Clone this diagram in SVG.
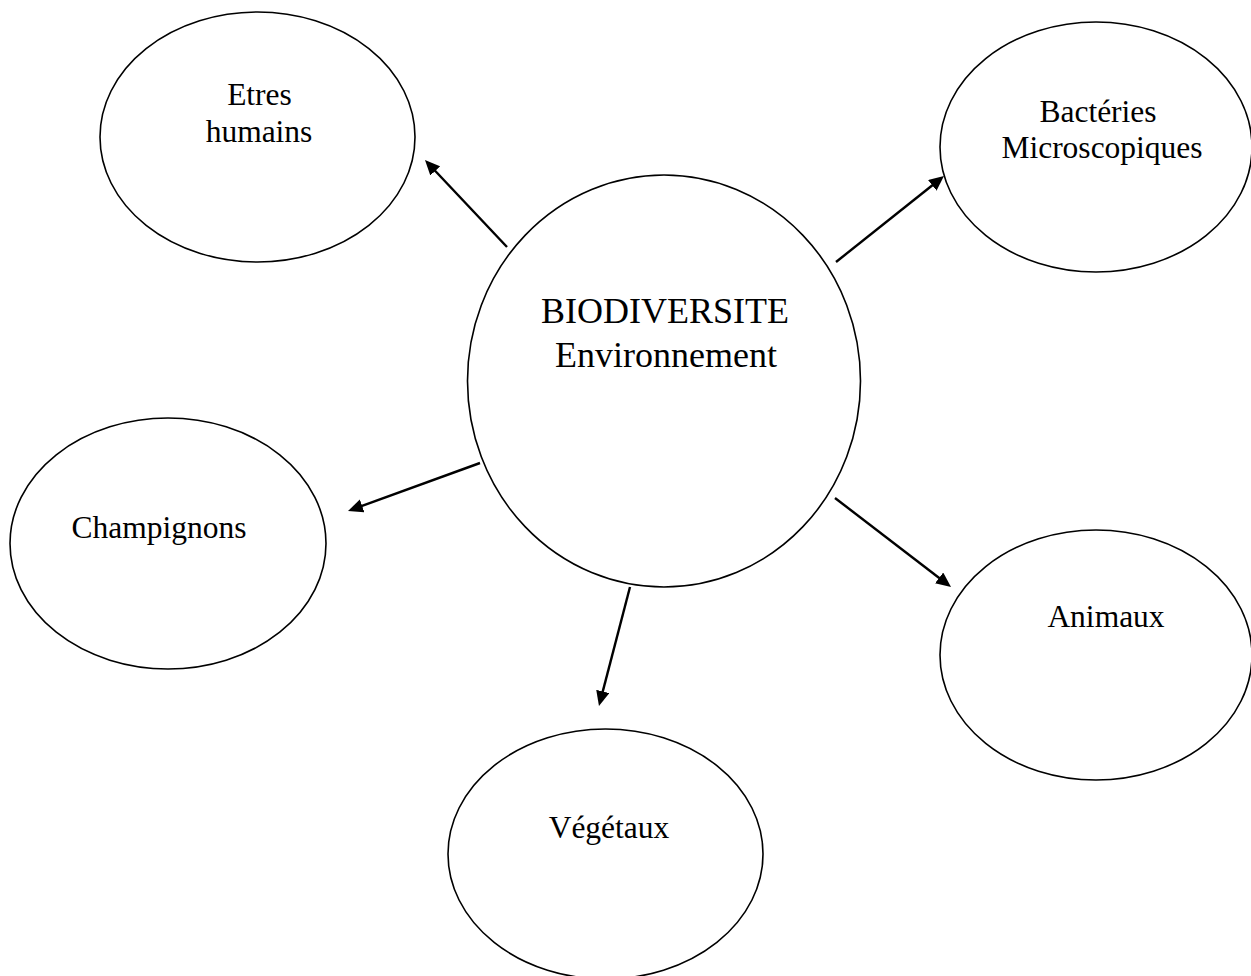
<svg xmlns="http://www.w3.org/2000/svg" width="1251" height="976" viewBox="0 0 1251 976">
<style>
.node{fill:#fff;stroke:#000;stroke-width:1.6}
.lbl{font-family:"Liberation Serif","Times New Roman",serif;font-size:31.5px;fill:#000;text-anchor:middle}
.big{font-size:36px}
.conn{stroke:#000;stroke-width:2.4;fill:none;marker-end:url(#arr)}
</style>
<defs>
<marker id="arr" markerUnits="userSpaceOnUse" markerWidth="16" markerHeight="14" refX="3" refY="6.75" orient="auto">
<path d="M0,0 L15,6.75 L0,13.5 z" fill="#000"/>
</marker>
</defs>
<rect width="1251" height="976" fill="#fff"/>
<g id="center">
<ellipse class="node" cx="664" cy="381" rx="196.5" ry="206"/>
<text class="lbl big" x="665" y="323">BIODIVERSITE</text>
<text class="lbl big" x="666" y="367">Environnement</text>
</g>
<g id="etres-humains">
<ellipse class="node" cx="257.5" cy="137" rx="157.5" ry="125"/>
<text class="lbl" x="259.5" y="105">Etres</text>
<text class="lbl" x="259" y="142">humains</text>
</g>
<g id="bacteries">
<ellipse class="node" cx="1096" cy="147" rx="156" ry="125"/>
<text class="lbl" x="1098" y="122">Bactéries</text>
<text class="lbl" x="1102" y="158">Microscopiques</text>
</g>
<g id="champignons">
<ellipse class="node" cx="168" cy="543.5" rx="158" ry="125.5"/>
<text class="lbl" x="159" y="538">Champignons</text>
</g>
<g id="animaux">
<ellipse class="node" cx="1096" cy="655" rx="156" ry="125"/>
<text class="lbl" x="1106" y="627">Animaux</text>
</g>
<g id="vegetaux">
<ellipse class="node" cx="605.5" cy="854" rx="157.5" ry="125"/>
<text class="lbl" x="609" y="838">Végétaux</text>
</g>
<g id="connectors">
<line class="conn" x1="507" y1="247" x2="433.2" y2="168.7"/>
<line class="conn" x1="836" y1="262" x2="934.6" y2="183.5"/>
<line class="conn" x1="480" y1="463" x2="359.3" y2="506.9"/>
<line class="conn" x1="835" y1="498" x2="941.5" y2="579.7"/>
<line class="conn" x1="630" y1="587" x2="602" y2="694.4"/>
</g>
</svg>
